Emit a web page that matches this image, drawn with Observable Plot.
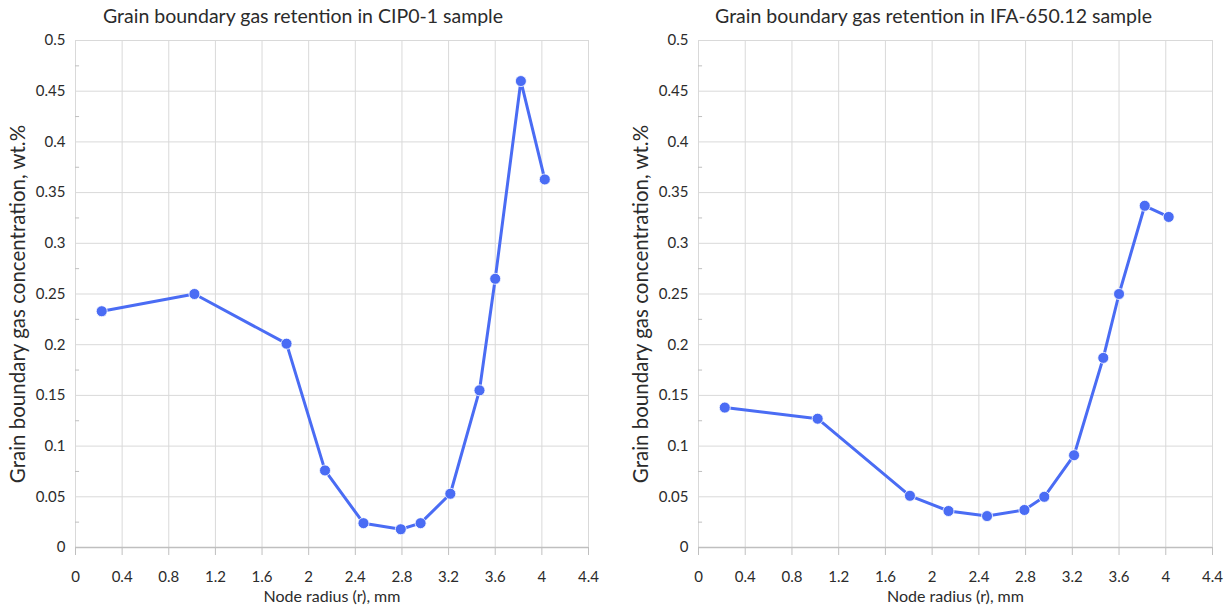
<!DOCTYPE html>
<html>
<head>
<meta charset="utf-8">
<script src="https://cdn.jsdelivr.net/npm/d3@7"></script>
<script src="https://cdn.jsdelivr.net/npm/@observablehq/plot@0.6"></script>
<style>
  html, body { margin: 0; padding: 0; background: #fff; }
  #wrap { position: relative; width: 1226px; height: 609px; overflow: hidden; }
  .panel { position: absolute; top: 0; }
</style>
</head>
<body>
<div id="wrap">
  <div class="panel" id="left" style="left:0px"></div>
  <div class="panel" id="right" style="left:613px"></div>
</div>
<script>
// ---- data ----
const nodeRadius = [0.225, 1.02, 1.81, 2.14, 2.47, 2.79, 2.96, 3.215, 3.465, 3.6, 3.82, 4.025];
const cip01 = [0.233, 0.25, 0.201, 0.076, 0.024, 0.018, 0.024, 0.053, 0.155, 0.265, 0.46, 0.363];
const ifa65012 = [0.138, 0.127, 0.051, 0.036, 0.031, 0.037, 0.05, 0.091, 0.187, 0.25, 0.337, 0.326];
const xTicks = [0, 0.4, 0.8, 1.2, 1.6, 2, 2.4, 2.8, 3.2, 3.6, 4, 4.4];
const yTicks = [0, 0.05, 0.1, 0.15, 0.2, 0.25, 0.3, 0.35, 0.4, 0.45, 0.5];
const yMinorTicks = [0.025, 0.075, 0.125, 0.175, 0.225, 0.275, 0.325, 0.375, 0.425, 0.475];
const titles = ["Grain boundary gas retention in CIP0-1 sample", "Grain boundary gas retention in IFA-650.12 sample"];
const xLabel = "Node radius (r), mm";
const yLabel = "Grain boundary gas concentration, wt.%";

const FONT = "Lato, 'Open Sans', sans-serif";
const BLUE = "#4a6cf4";
const TEXT = "#2b2b2b";
const fmt = d => String(+d.toFixed(2));

function panel(values, title, m, titleDx) {
  const data = nodeRadius.map((r, i) => ({r, v: values[i]}));
  return Plot.plot({
    width: 613,
    height: 609,
    marginLeft: m.left,
    marginRight: m.right,
    marginTop: 40,
    marginBottom: 62,
    style: {fontFamily: FONT, color: TEXT, background: "transparent", overflow: "visible"},
    x: {domain: [0, 4.4]},
    y: {domain: [0, 0.5], axis: null},
    marks: [
      Plot.gridX(xTicks, {stroke: "#d9d9d9", strokeOpacity: 1, strokeWidth: 1}),
      Plot.gridY(yTicks, {stroke: "#d9d9d9", strokeOpacity: 1, strokeWidth: 1}),
      Plot.ruleY(yMinorTicks, {x1: 0, x2: 0.035, stroke: "#bfbfbf", strokeWidth: 1}),
      Plot.ruleY([0], {stroke: "#bfbfbf", strokeWidth: 1.5}),
      Plot.axisX({ticks: xTicks, tickFormat: () => "", tickSize: 8, stroke: "#bfbfbf", label: null}),
      Plot.text(xTicks, {x: d => d, y: 0, text: fmt, dy: 30, fontSize: 15, fill: TEXT}),
      Plot.text(yTicks, {x: 0, y: d => d, text: fmt, textAnchor: "end", dx: -10, fontSize: 15, fill: TEXT}),
      Plot.text([xLabel], {frameAnchor: "bottom", dy: 54, fontSize: 16, fill: TEXT}),
      Plot.text([yLabel], {frameAnchor: "left", textAnchor: "middle", rotate: -90, dx: -57, dy: 10, fontSize: 20.5, fill: TEXT}),
      Plot.text([title], {frameAnchor: "top", dx: titleDx, dy: -31, fontSize: 19.5, fill: TEXT}),
      Plot.line(data, {x: "r", y: "v", stroke: BLUE, strokeWidth: 3}),
      Plot.dot(data, {x: "r", y: "v", r: 5.5, fill: BLUE, stroke: "#ffffff", strokeWidth: 0.8})
    ]
  });
}

document.getElementById("left").appendChild(panel(cip01, titles[0], {left: 75, right: 25}, -29));
document.getElementById("right").appendChild(panel(ifa65012, titles[1], {left: 85, right: 14}, -22));
</script>
</body>
</html>
